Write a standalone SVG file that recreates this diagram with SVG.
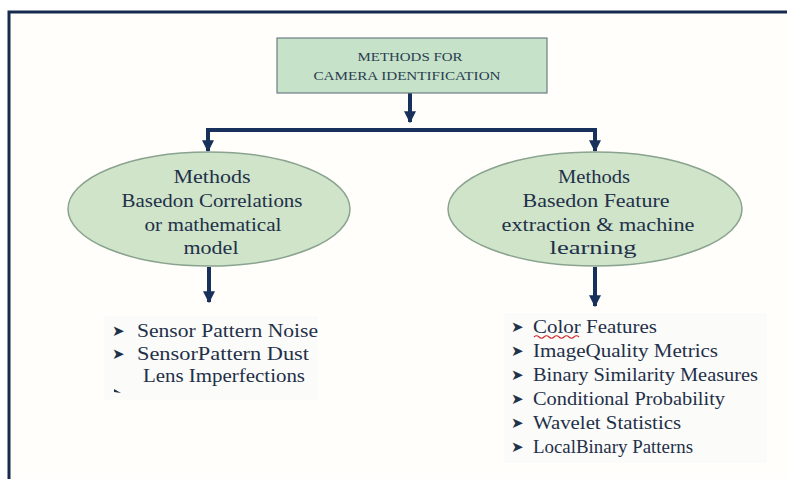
<svg xmlns="http://www.w3.org/2000/svg" width="787" height="479" viewBox="0 0 787 479">
  <defs>
    <marker id="head" viewBox="0 0 10 10" refX="9" refY="5" markerWidth="3" markerHeight="3" orient="auto" markerUnits="strokeWidth">
      <path d="M0,0 L10,5 L0,10 z" fill="#17305c"/>
    </marker>
    <style>
      .frame { fill: #fffefb; stroke: #152a4d; stroke-width: 3; }
      .box { fill: #c6e2c8; stroke: #6d7d86; stroke-width: 1.2; }
      .oval { fill: #cfe4c9; stroke: #8aa38f; stroke-width: 1.5; }
      .wire { fill: none; stroke: #17305c; stroke-width: 4; }
      .arrow { fill: none; stroke: #17305c; stroke-width: 4; marker-end: url(#head); }
      .t { fill: #1f3049; }
      .title { font-size: 13px; text-anchor: middle; fill: #2a3d52; }
      .ov { font-size: 19px; text-anchor: middle; }
      .li { font-size: 18px; }
      .bul { font-family: "DejaVu Sans", sans-serif; font-size: 15px; fill: #1f3049; }
      .panel { fill: #fbfbf9; }
    </style>
  </defs>

  <rect x="0" y="0" width="787" height="479" fill="#ffffff"/>
  <rect class="frame" x="9" y="12" width="800" height="480"/>

  <!-- connectors -->
  <g id="connectors">
    <path class="arrow" d="M410,93 V122"/>
    <path class="wire" d="M208,130 H595"/>
    <path class="arrow" d="M208,128 V151"/>
    <path class="arrow" d="M595,128 V151"/>
    <path class="arrow" d="M209,267 V302"/>
    <path class="arrow" d="M595,267 V306"/>
  </g>

  <g font-family="'Liberation Serif', 'DejaVu Serif', 'Times New Roman', serif">
    <!-- root box -->
    <g id="root">
      <rect class="box" x="277" y="38" width="270" height="55"/>
      <text class="t title" x="410" y="61" textLength="105" lengthAdjust="spacingAndGlyphs">METHODS FOR</text>
      <text class="t title" x="407" y="80" textLength="187" lengthAdjust="spacingAndGlyphs">CAMERA IDENTIFICATION</text>
    </g>

    <!-- left branch -->
    <g id="correlation">
      <ellipse class="oval" cx="209" cy="209" rx="141" ry="57"/>
      <text class="t ov" x="212" y="183" textLength="77" lengthAdjust="spacingAndGlyphs">Methods</text>
      <text class="t ov" x="212" y="207" textLength="181" lengthAdjust="spacingAndGlyphs">Basedon Correlations</text>
      <text class="t ov" x="213" y="231" textLength="137" lengthAdjust="spacingAndGlyphs">or mathematical</text>
      <text class="t ov" x="211" y="254" textLength="55" lengthAdjust="spacingAndGlyphs">model</text>
    </g>

    <!-- right branch -->
    <g id="learning">
      <ellipse class="oval" cx="595" cy="209" rx="147" ry="57"/>
      <text class="t ov" x="594" y="183" textLength="72" lengthAdjust="spacingAndGlyphs">Methods</text>
      <text class="t ov" x="596" y="207" textLength="147" lengthAdjust="spacingAndGlyphs">Basedon Feature</text>
      <text class="t ov" x="598" y="231" textLength="193" lengthAdjust="spacingAndGlyphs">extraction &amp; machine</text>
      <text class="t ov" x="593" y="254" textLength="87" lengthAdjust="spacingAndGlyphs">learning</text>
    </g>

    <!-- left list -->
    <g id="correlation-list">
      <rect class="panel" x="104" y="316" width="214" height="84"/>
      <text class="bul" x="112" y="336">➤</text>
      <text class="t li" x="137" y="337" textLength="181" lengthAdjust="spacingAndGlyphs">Sensor Pattern Noise</text>
      <text class="bul" x="112" y="359">➤</text>
      <text class="t li" x="137" y="360" textLength="172" lengthAdjust="spacingAndGlyphs">SensorPattern Dust</text>
      <text class="t li" x="143" y="382" textLength="162" lengthAdjust="spacingAndGlyphs">Lens Imperfections</text>
      <path d="M114,389 L121,393 L114,392 z" fill="#1f3049"/>
    </g>

    <!-- right list -->
    <g id="learning-list">
      <rect class="panel" x="504" y="313" width="263" height="150"/>
      <text class="bul" x="511" y="332">➤</text>
      <text class="t li" x="533" y="333" textLength="124" lengthAdjust="spacingAndGlyphs">Color Features</text>
      <path d="M534,337 q2.5,-2.5 5,0 t5,0 t5,0 t5,0 t5,0 t5,0 t5,0 t5,0 t5,0" fill="none" stroke="#d0262a" stroke-width="1.1"/>
      <text class="bul" x="511" y="356">➤</text>
      <text class="t li" x="533" y="357" textLength="185" lengthAdjust="spacingAndGlyphs">ImageQuality Metrics</text>
      <text class="bul" x="511" y="380">➤</text>
      <text class="t li" x="533" y="381" textLength="225" lengthAdjust="spacingAndGlyphs">Binary Similarity Measures</text>
      <text class="bul" x="511" y="404">➤</text>
      <text class="t li" x="533" y="405" textLength="192" lengthAdjust="spacingAndGlyphs">Conditional Probability</text>
      <text class="bul" x="511" y="428">➤</text>
      <text class="t li" x="533" y="429" textLength="148" lengthAdjust="spacingAndGlyphs">Wavelet Statistics</text>
      <text class="bul" x="511" y="452">➤</text>
      <text class="t li" x="533" y="453" textLength="160" lengthAdjust="spacingAndGlyphs">LocalBinary Patterns</text>
    </g>
  </g>
</svg>
